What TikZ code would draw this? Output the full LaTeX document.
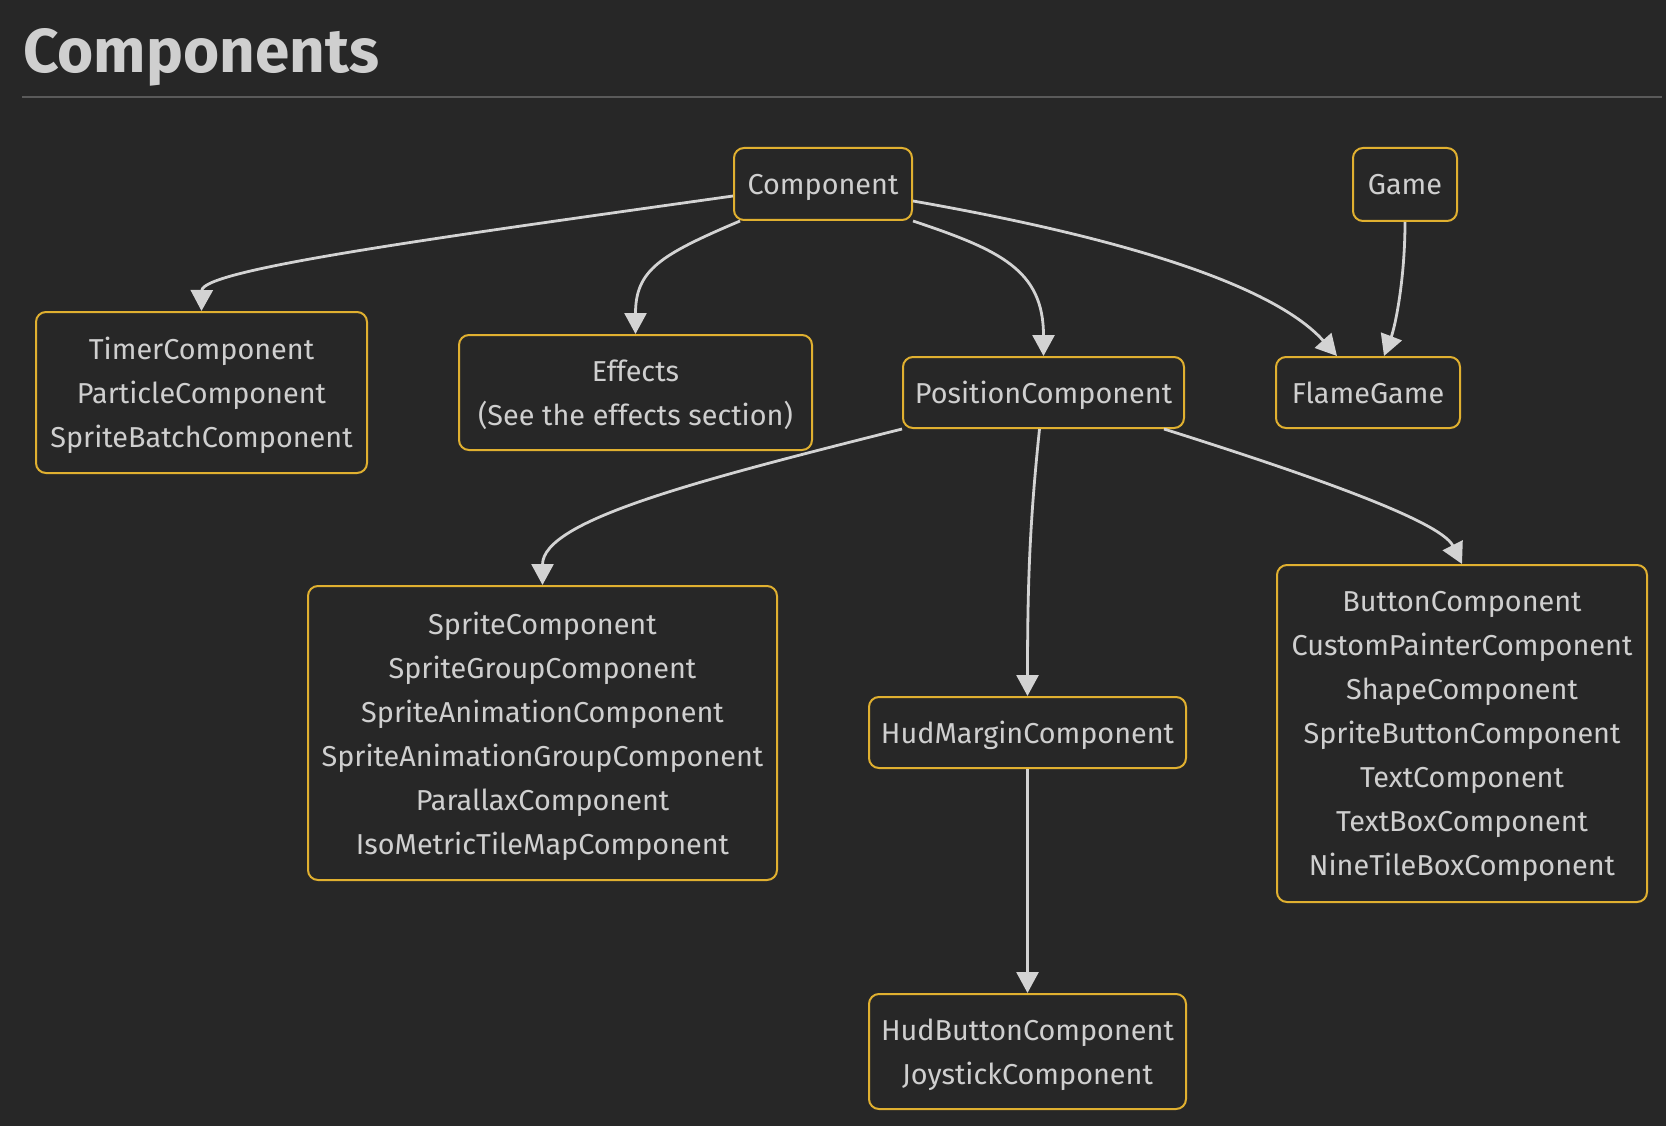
\documentclass[tikz,border=0pt]{standalone}
\usepackage{fontspec}
\setmainfont{Fira Sans}
\usetikzlibrary{arrows.meta}
\definecolor{bg}{HTML}{272727}
\definecolor{gold}{RGB}{224,176,48}
\definecolor{txt}{HTML}{CFCFCF}
\definecolor{arrowc}{HTML}{D3D3D3}
\definecolor{rulec}{HTML}{5A5A5A}
\tikzset{
  box/.style={draw=gold, line width=2pt, rounded corners=10pt, fill=bg, text=txt,
    font=\fontsize{28.8}{44}\selectfont, align=center, inner sep=0pt, text depth=0pt},
  conn/.style={draw=arrowc, line width=2.8pt, -{Triangle[width=22pt,length=21pt]}}
}
\begin{document}
\begin{tikzpicture}[x=1pt,y=-1pt]
\fill[bg] (0,0) rectangle (1666,1126);
\useasboundingbox (0,0) rectangle (1666,1126);
\node[anchor=base west, inner sep=0pt, text=txt, font=\fontsize{62}{62}\selectfont\bfseries] (title) at (23,73) {Components};
\draw[rulec, line width=2pt] (22,97) -- (1662,97);

\node[box, minimum width=178pt, minimum height=72pt] (comp) at (823,184) {Component};
\node[box, minimum width=104pt, minimum height=73pt] (game) at (1405,184.5) {Game};
\node[box, minimum width=331pt, minimum height=161pt] (timer) at (201.5,392.5) {TimerComponent\\ParticleComponent\\SpriteBatchComponent};
\node[box, minimum width=353pt, minimum height=115pt] (effects) at (635.5,392.5) {Effects\\(See the effects section)};
\node[box, minimum width=281pt, minimum height=71pt] (pos) at (1043.5,392.5) {PositionComponent};
\node[box, minimum width=184pt, minimum height=71pt] (flame) at (1368,392.5) {FlameGame};
\node[box, minimum width=469pt, minimum height=294pt] (sprite) at (542.5,733) {SpriteComponent\\SpriteGroupComponent\\SpriteAnimationComponent\\SpriteAnimationGroupComponent\\ParallaxComponent\\IsoMetricTileMapComponent};
\node[box, minimum width=317pt, minimum height=71pt] (hudm) at (1027.5,732.5) {HudMarginComponent};
\node[box, minimum width=317pt, minimum height=115pt] (hudb) at (1027.5,1051.5) {HudButtonComponent\\JoystickComponent};
\node[box, minimum width=370pt, minimum height=337pt] (button) at (1462,733.5) {ButtonComponent\\CustomPainterComponent\\ShapeComponent\\SpriteButtonComponent\\TextComponent\\TextBoxComponent\\NineTileBoxComponent};

\draw[conn] ([yshift=-12pt]comp.west) .. controls (420,240) and (202,270) .. (timer.north);
\draw[conn] ([xshift=7pt]comp.south west) .. controls (660,255) and (635.5,270) .. (effects.north);
\draw[conn] (comp.south east) .. controls (1000,250) and (1043.5,270) .. (pos.north);
\draw[conn] ([yshift=-17pt]comp.east) .. controls (1175,247) and (1285,298) .. ([xshift=62pt]flame.north west);
\draw[conn] (game.south) .. controls (1405,280) and (1395,327) .. ([xshift=16pt]flame.north);
\draw[conn] (pos.south west) .. controls (700,480) and (542.5,520) .. (sprite.north);
\draw[conn] ([xshift=-4pt]pos.south) .. controls (1030,520) and (1027.5,580) .. (hudm.north);
\draw[conn] (hudm.south) -- (hudb.north);
\draw[conn] ([xshift=-21pt]pos.south east) .. controls (1300,472) and (1440,520) .. (button.north);
\end{tikzpicture}
\end{document}
